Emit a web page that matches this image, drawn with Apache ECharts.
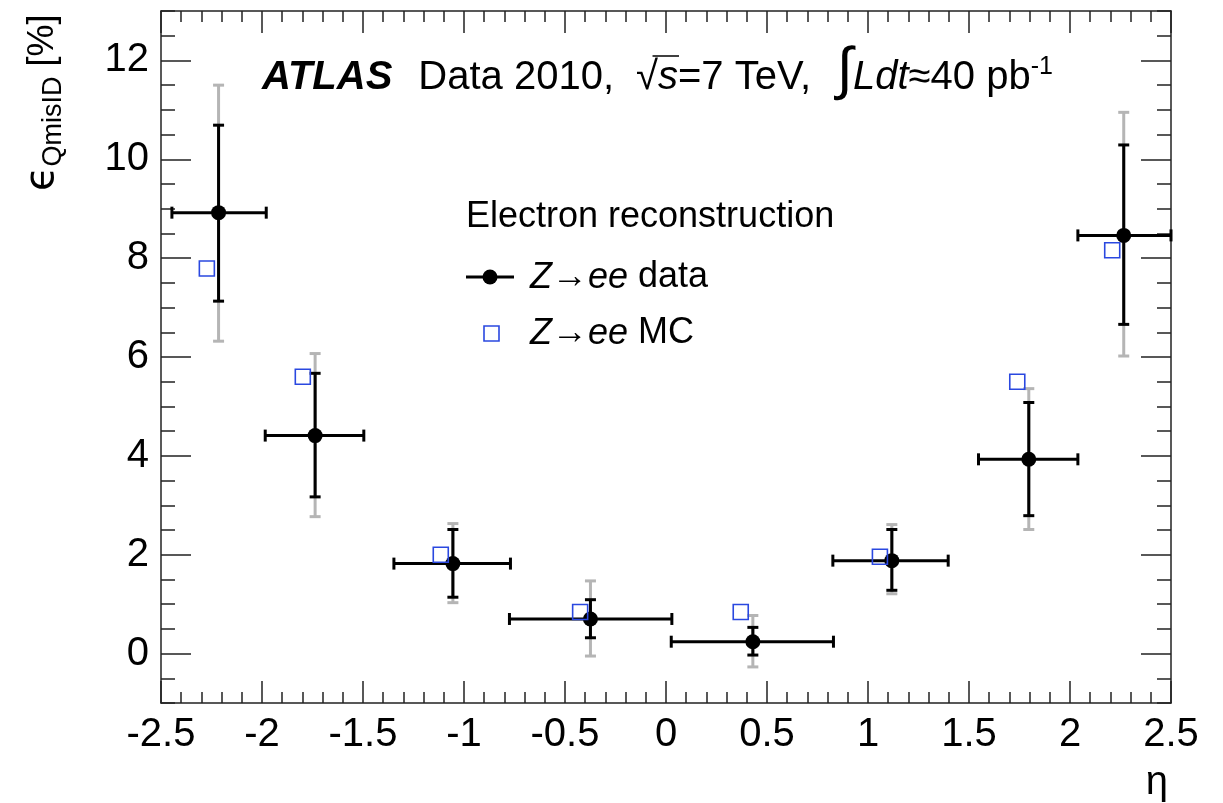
<!DOCTYPE html>
<html><head><meta charset="utf-8">
<script src="https://cdn.jsdelivr.net/npm/echarts@6/dist/echarts.min.js"></script>
<style>html,body{margin:0;padding:0;background:#fff}#c{width:1223px;height:803px}</style>
</head><body><div id="c"></div>
<script>
// ---- data ----
const etaData = [-2.215, -1.737, -1.055, -0.374, 0.430, 1.118, 1.796, 2.266];
const etaLo   = [-2.446, -1.984, -1.347, -0.775, 0.026, 0.826, 1.547, 2.039];
const etaHi   = [-1.979, -1.496, -0.770, 0.029, 0.829, 1.397, 2.039, 2.5];
const effData = [8.92, 4.41, 1.82, 0.70, 0.24, 1.88, 3.93, 8.46];
const statLo  = [7.13, 3.17, 1.14, 0.32, -0.03, 1.28, 2.79, 6.66];
const statHi  = [10.69, 5.67, 2.51, 1.09, 0.53, 2.51, 5.08, 10.29];
const totLo   = [6.32, 2.77, 1.03, -0.05, -0.27, 1.21, 2.51, 6.02];
const totHi   = [11.50, 6.07, 2.63, 1.47, 0.77, 2.61, 5.36, 10.95];
const etaMC   = [-2.273, -1.798, -1.115, -0.425, 0.370, 1.059, 1.739, 2.209];
const effMC   = [7.79, 5.60, 2.00, 0.84, 0.84, 1.96, 5.50, 8.16];
const yLabelValues = [0, 2, 4, 6, 8, 10, 12];

const FONT = '"Liberation Sans", Arial, Helvetica, sans-serif';
const AX = '#222';
const GRAY = '#b5b5b5';
const BLUE = '#2a48e0';
const CAP = 5.5;

const chart = echarts.init(document.getElementById('c'));

const ctx = document.createElement('canvas').getContext('2d');
function seq(x0, base, segs) {
  let x = x0; const els = []; const pos = [];
  segs.forEach(s => {
    if (s.gap) { x += s.gap; pos.push({x: x, w: 0}); return; }
    const fam = s.fam || FONT;
    ctx.font = `${s.st || 'normal'} ${s.wt || 'normal'} ${s.fs}px ${fam}`;
    const w = ctx.measureText(s.t).width;
    els.push({type: 'text', x: x, y: base - (s.rise || 0) - 0.3465 * s.fs,
      style: {text: s.t, fontSize: s.fs, fontFamily: fam, fontStyle: s.st || 'normal',
        fontWeight: s.wt || 'normal', fill: '#000', align: 'left', verticalAlign: 'middle'}});
    pos.push({x: x, w: w});
    x += w;
  });
  return {els, pos};
}

const TF = 40, TB = 92, GAP = 26;
const title = seq(262, TB, [
  {t: 'ATLAS', fs: TF, st: 'italic', wt: 'bold'},
  {gap: GAP},
  {t: 'Data 2010,', fs: TF},
  {gap: GAP - 4},
  {t: '\u221A', fs: TF},
  {t: 's', fs: TF, st: 'italic'},
  {t: '=7 TeV,', fs: TF},
  {gap: GAP},
  {t: '\u222B', fs: 58},
  {t: 'Ldt', fs: TF, st: 'italic'},
  {t: '\u224840 pb', fs: TF},
  {t: '-1', fs: 25, rise: 16}
]);
const sq = title.pos[4], sv = title.pos[5];
const overbar = {type: 'line', shape: {x1: sq.x + sq.w * 0.75, y1: TB - 0.9 * TF, x2: sv.x + sv.w + 1, y2: TB - 0.9 * TF},
  style: {stroke: '#000', lineWidth: 1.5}};

const LF = 36;
const leg0 = seq(466, 230, [{t: 'Electron reconstruction', fs: LF}]);
const leg1 = seq(530, 290, [{t: 'Z', fs: LF, st: 'italic'}, {t: '\u2192', fs: LF}, {t: 'ee', fs: LF, st: 'italic'}, {t: ' data', fs: LF}]);
const leg2 = seq(530, 346, [{t: 'Z', fs: LF, st: 'italic'}, {t: '\u2192', fs: LF}, {t: 'ee', fs: LF, st: 'italic'}, {t: ' MC', fs: LF}]);

// y-axis title (rotated)
const ytl = seq(0, 0, [
  {t: '\u03F5', fs: 40, fam: '"DejaVu Sans", ' + FONT},
  {t: 'QmisID', fs: 27, rise: -7},
  {t: ' [%]', fs: 36}
]);

const graphics = [].concat(title.els, [overbar], leg0.els, leg1.els, leg2.els, [
  {type: 'line', shape: {x1: 466, y1: 277, x2: 514, y2: 277}, style: {stroke: '#000', lineWidth: 3}},
  {type: 'circle', shape: {cx: 490, cy: 277, r: 7.5}, style: {fill: '#000'}},
  {type: 'rect', shape: {x: 484, y: 326, width: 15, height: 15}, style: {fill: 'none', stroke: BLUE, lineWidth: 1.6}},
  {type: 'group', x: 56, y: 191, rotation: Math.PI / 2, children: ytl.els},
  {type: 'text', x: 1168, y: 797 - 0.3465 * 40, style: {text: '\u03B7', fontSize: 40, fontFamily: FONT, fill: '#000', align: 'right', verticalAlign: 'middle'}}
]);

const totRows = etaData.map((e, i) => [e, totLo[i], totHi[i]]);
const statRows = etaData.map((e, i) => [e, effData[i], etaLo[i], etaHi[i], statLo[i], statHi[i]]);
const dataPts = etaData.map((e, i) => [e, effData[i]]);
const mcPts = etaMC.map((e, i) => [e, effMC[i]]);

function ln(x1, y1, x2, y2, st) { return {type: 'line', shape: {x1, y1, x2, y2}, style: st}; }

function renderTot(params, api) {
  const x = api.value(0);
  const pl = api.coord([x, api.value(1)]), ph = api.coord([x, api.value(2)]);
  const st = {stroke: GRAY, lineWidth: 3};
  return {type: 'group', children: [
    ln(pl[0], pl[1], ph[0], ph[1], st),
    ln(pl[0] - CAP, pl[1], pl[0] + CAP, pl[1], st),
    ln(ph[0] - CAP, ph[1], ph[0] + CAP, ph[1], st)
  ]};
}
function renderStat(params, api) {
  const x = api.value(0), y = api.value(1);
  const pl = api.coord([x, api.value(4)]), ph = api.coord([x, api.value(5)]);
  const hl = api.coord([api.value(2), y]), hh = api.coord([api.value(3), y]);
  const st = {stroke: '#000', lineWidth: 3};
  return {type: 'group', children: [
    ln(pl[0], pl[1], ph[0], ph[1], st),
    ln(pl[0] - CAP, pl[1], pl[0] + CAP, pl[1], st),
    ln(ph[0] - CAP, ph[1], ph[0] + CAP, ph[1], st),
    ln(hl[0], hl[1], hh[0], hh[1], st),
    ln(hl[0], hl[1] - 6, hl[0], hl[1] + 6, st),
    ln(hh[0], hh[1] - 6, hh[0], hh[1] + 6, st)
  ]};
}

const lineSt = {color: AX, width: 1.5};
function xAx(pos, labels) {
  return {type: 'value', min: -2.5, max: 2.5, interval: 0.5, position: pos,
    axisLine: {show: true, onZero: false, lineStyle: lineSt},
    axisTick: {show: true, inside: true, length: 22, lineStyle: lineSt},
    minorTick: {show: true, splitNumber: 5, length: 11, lineStyle: lineSt},
    splitLine: {show: false}, minorSplitLine: {show: false},
    axisLabel: {show: labels, fontSize: 40, color: '#000', fontFamily: FONT, margin: 12,
      formatter: v => (Math.abs(v) < 1e-9 ? '0' : String(+v.toFixed(1)))}};
}
function yMinor(pos, labels) {
  return {type: 'value', min: -1, max: 13, interval: 0.5, position: pos,
    axisLine: {show: true, onZero: false, lineStyle: lineSt},
    axisTick: {show: true, inside: true, length: 14, lineStyle: lineSt},
    splitLine: {show: false},
    axisLabel: {show: labels, fontSize: 40, color: '#000', fontFamily: FONT, margin: 12,
      formatter: v => (yLabelValues.some(t => Math.abs(t - v) < 1e-6) ? String(Math.round(v)) : '')}};
}
function yMajor(pos) {
  return {type: 'value', min: -1, max: 13, position: pos,
    axisLine: {show: false, onZero: false},
    axisTick: {show: true, inside: true, length: 30, lineStyle: lineSt, customValues: yLabelValues},
    splitLine: {show: false}, axisLabel: {show: false}};
}

chart.setOption({
  animation: false,
  backgroundColor: '#fff',
  grid: {left: 161, right: 52, top: 11, bottom: 100, containLabel: false},
  xAxis: [xAx('bottom', true), xAx('top', false)],
  yAxis: [yMinor('left', true), yMajor('left'), yMinor('right', false), yMajor('right')],
  series: [
    {type: 'custom', xAxisIndex: 0, yAxisIndex: 0, data: totRows, renderItem: renderTot, z: 1, silent: true},
    {type: 'custom', xAxisIndex: 0, yAxisIndex: 0, data: statRows, renderItem: renderStat, z: 2, silent: true},
    {type: 'scatter', xAxisIndex: 0, yAxisIndex: 0, data: dataPts, symbol: 'circle', symbolSize: 15,
      itemStyle: {color: '#000', opacity: 1}, z: 3, silent: true},
    {type: 'scatter', xAxisIndex: 0, yAxisIndex: 0, data: mcPts, symbol: 'rect', symbolSize: 15,
      itemStyle: {color: 'rgba(255,255,255,0)', borderColor: BLUE, borderWidth: 1.6, opacity: 1}, z: 4, silent: true}
  ],
  graphic: graphics
});
</script>
</body></html>
